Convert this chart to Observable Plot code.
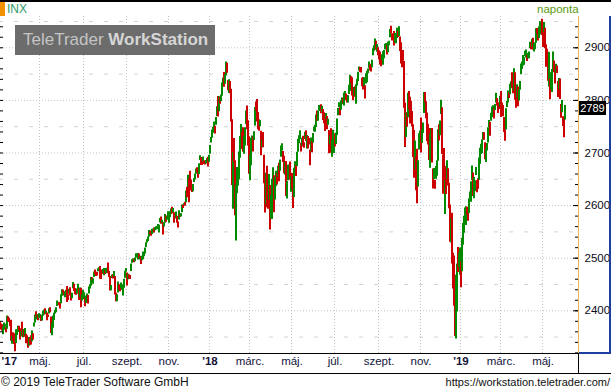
<!DOCTYPE html>
<html><head><meta charset="utf-8">
<script src="https://cdn.jsdelivr.net/npm/d3@7"></script>
<script src="https://cdn.jsdelivr.net/npm/@observablehq/plot@0.6"></script>
<style>
body{margin:0;background:#fff;}
#wrap{position:relative;width:611px;height:392px;overflow:hidden;background:#fff;font-family:"Liberation Sans",Arial,sans-serif;}
#chart{position:absolute;left:0;top:0;}
.abs{position:absolute;}
.topline{left:0;top:0;width:611px;height:2px;background:#000;}
.orange{left:0;top:2px;width:5px;height:14px;background:#f39200;}
.inx{left:7px;top:2px;font-size:12px;color:#2f9a6a;line-height:14px;}
.naponta{left:537px;top:3px;font-size:11.5px;color:#5a9a10;line-height:13px;}
.wm{left:15px;top:25px;width:200px;height:30px;background:#6c6c6c;color:#c4c4c4;font-size:17px;line-height:30px;white-space:nowrap;}
.wm .a{margin-left:8px;}
.wm .b{font-weight:bold;color:#d6d6d6;}
.hl{background:#000;height:1px;}
.gold{background:#e8b84a;width:1px;}
.blue{background:#1f3f9f;}
.last{background:#000;color:#fff;font-size:11px;line-height:14px;height:14px;width:27px;text-align:center;left:579px;}
.foot{top:375px;font-size:12px;color:#111;line-height:14px;white-space:nowrap;}
</style></head><body>
<div id="wrap">
<div id="chart"></div>
<div class="abs topline"></div>
<div class="abs orange"></div>
<div class="abs inx">INX</div>
<div class="abs naponta">naponta</div>
<div class="abs wm"><span class="a">TeleTrader </span><span class="b">WorkStation</span></div>
<div class="abs hl" style="left:0;top:353px;width:579px;"></div>
<div class="abs hl" style="left:0;top:373px;width:611px;"></div>
<div class="abs hl" style="left:578px;top:353px;width:1px;height:20px;"></div>
<div class="abs gold" style="left:578px;top:16px;height:337px;"></div>
<div class="abs blue" style="left:609px;top:16px;width:2px;height:338px;"></div>
<div class="abs blue" style="left:579px;top:352px;width:32px;height:2px;"></div>
<div class="abs last" id="last"></div>
<div class="abs foot" style="left:1px;">© 2019 TeleTrader Software GmbH</div>
<div class="abs foot" style="right:1px;font-size:11px;">https://workstation.teletrader.com/</div>
</div>
<script>
// Trading days per month, Mar 2017 (from the 6th) .. Jun 2019
const monthDays = [20,19,22,22,20,23,20,22,21,20, 21,19,21,21,22,21,21,23,19,23,21,19, 21,19,21,21,22,2];
const firstLabel = "'17";
const xTickLabels = ["máj.","júl.","szept.","nov.","'18","márc.","máj.","júl.","szept.","nov.","'19","márc.","máj."];
const yTicks = [2400,2500,2600,2700,2800,2900];
const prevClose = 2383.1;
const lastLabel = "2789";

const highs = [
2378.8,2375.1,2373.6,2369.1,2376.9,2374.4,2368.6,2390.0,2388.9,2385.7,2379.6,2382.0,2351.8,2358.2,2356.2,2344.9,2363.8,2363.4,2370.4,2370.4,
2365.9,2360.5,2378.4,2364.2,2363.8,2366.4,2355.2,2352.7,2348.3,2349.1,2348.4,2352.6,2361.4,2356.2,2376.9,2392.1,2398.2,2392.4,2392.4,
2394.5,2392.9,2390.7,2391.4,2399.3,2401.4,2403.9,2399.7,2395.7,2392.1,2404.0,2405.8,2388.2,2375.7,2390.0,2395.5,2400.9,2405.6,2418.7,2416.4,2415.3,2415.8,
2430.6,2440.2,2439.5,2436.2,2435.2,2439.0,2446.2,2430.7,2441.0,2443.8,2433.2,2433.2,2453.8,2450.4,2442.6,2440.6,2441.2,2450.4,2442.2,2443.4,2442.7,2430.5,
2439.2,2434.1,2424.2,2428.1,2432.0,2429.3,2445.0,2449.3,2463.5,2462.7,2460.9,2473.8,2477.6,2472.5,2473.1,2480.0,2481.7,2484.0,2473.5,2477.7,
2478.5,2480.4,2476.3,2480.4,2480.9,2490.9,2474.9,2465.0,2448.1,2468.2,2468.4,2474.9,2465.0,2433.4,2430.6,2454.8,2449.0,2448.9,2453.0,2449.1,2449.2,2460.0,2475.0,
2480.4,2471.9,2469.6,2468.6,2467.1,2488.9,2496.8,2498.4,2498.4,2500.2,2508.3,2507.0,2508.9,2507.8,2503.5,2502.5,2503.5,2511.8,2510.8,2519.4,
2529.2,2535.1,2540.5,2552.5,2549.9,2551.8,2555.2,2555.2,2557.6,2557.7,2559.7,2559.7,2564.1,2562.4,2575.4,2578.3,2572.2,2567.4,2567.1,2582.9,2580.0,2578.3,
2588.4,2581.9,2588.4,2593.4,2597.0,2594.4,2586.5,2583.0,2587.7,2579.7,2569.0,2590.1,2583.9,2584.6,2601.2,2600.9,2604.2,2606.4,2627.7,2634.9,2657.7,
2650.6,2665.2,2648.7,2634.4,2640.0,2651.6,2660.3,2669.7,2671.9,2668.1,2679.6,2694.6,2691.0,2691.0,2692.6,2685.4,2682.4,2685.6,2689.4,2692.1,
2695.9,2714.4,2729.3,2743.5,2748.5,2759.1,2750.8,2767.6,2787.9,2807.5,2807.0,2805.8,2810.3,2833.0,2842.2,2853.0,2848.6,2872.9,2870.6,2837.8,2839.3,
2836.0,2821.0,2763.4,2701.0,2727.7,2685.3,2638.7,2672.6,2668.8,2702.1,2731.5,2754.4,2739.1,2747.8,2731.3,2747.8,2780.0,2789.2,2761.5,
2730.9,2696.3,2728.1,2732.1,2730.6,2740.5,2786.6,2797.0,2801.9,2777.1,2763.0,2761.9,2741.4,2724.2,2739.1,2695.7,2657.7,2661.4,2674.8,2632.6,2659.1,
2638.3,2619.1,2649.9,2672.1,2656.9,2653.6,2665.5,2661.4,2674.7,2680.3,2686.5,2713.3,2717.5,2702.8,2693.9,2682.9,2683.6,2645.8,2676.5,2677.4,2682.9,
2655.3,2660.9,2637.2,2670.9,2683.4,2676.3,2701.3,2726.1,2732.9,2742.1,2718.6,2727.8,2732.0,2719.5,2739.2,2742.2,2733.3,2731.5,2727.4,2705.3,2728.7,2722.5,
2736.9,2749.2,2752.6,2772.4,2779.9,2779.4,2790.2,2789.8,2791.5,2789.1,2782.8,2776.5,2766.2,2774.9,2769.3,2764.2,2742.9,2732.9,2746.1,2724.3,2743.3,
2727.3,2736.6,2737.8,2764.4,2784.7,2795.6,2785.9,2799.2,2804.5,2803.9,2814.2,2816.8,2812.1,2809.4,2808.6,2829.0,2848.0,2844.9,2843.2,2821.7,2824.5,
2825.8,2829.9,2840.4,2853.3,2863.4,2862.4,2862.5,2842.2,2843.4,2843.1,2828.0,2850.5,2855.6,2859.8,2873.2,2867.5,2868.8,2876.2,2898.3,2903.8,2916.5,2912.5,2906.3,
2900.2,2894.2,2892.1,2883.8,2886.9,2892.5,2894.7,2906.8,2908.3,2904.7,2911.2,2912.4,2934.8,2940.9,2926.9,2924.0,2931.2,2927.2,2920.5,
2937.1,2931.4,2939.9,2920.5,2909.6,2894.8,2894.8,2874.0,2795.1,2775.8,2776.0,2813.5,2816.9,2806.0,2797.8,2778.9,2753.6,2742.6,2722.7,2692.4,2706.9,2685.4,2736.7,
2741.7,2766.3,2744.3,2756.8,2815.2,2814.8,2797.6,2776.0,2754.6,2746.8,2735.4,2746.8,2746.8,2669.4,2670.7,2647.6,2674.4,2685.4,2744.0,2753.8,2760.9,
2800.2,2785.9,2696.1,2708.5,2647.5,2674.4,2685.4,2670.2,2642.3,2601.1,2574.0,2585.3,2509.6,2504.4,2410.3,2467.8,2489.1,2520.3,2509.2,
2519.5,2493.1,2538.1,2566.2,2579.8,2595.3,2597.8,2597.0,2589.5,2613.1,2625.8,2645.1,2675.5,2662.0,2653.2,2647.2,2672.4,2647.6,2650.9,2690.4,2709.0,
2716.7,2725.0,2739.0,2738.6,2719.3,2708.1,2718.1,2748.2,2761.9,2757.9,2775.7,2787.3,2789.9,2785.4,2792.4,2813.5,2803.5,2795.4,2791.1,
2808.0,2816.9,2795.0,2790.3,2767.7,2744.1,2784.0,2798.2,2818.0,2815.0,2830.7,2835.4,2852.4,2843.5,2860.3,2852.4,2809.8,2829.9,2825.4,2819.7,2836.0,
2869.4,2872.9,2885.3,2881.3,2893.2,2896.0,2885.3,2889.7,2891.9,2910.5,2909.6,2916.1,2918.0,2908.4,2909.5,2936.3,2936.8,2933.1,2939.9,2949.5,2948.2,
2954.1,2931.7,2947.9,2937.3,2905.9,2897.3,2880.6,2891.3,2840.2,2852.5,2858.7,2892.2,2875.0,2853.9,2868.9,2865.5,2836.0,2841.4,2840.5,2792.0,2799.7,2769.0,
2767.9,2790.5];

const lows = [
2367.0,2363.5,2361.0,2354.5,2363.0,2368.5,2358.2,2365.0,2379.0,2377.6,2369.7,2341.9,2336.5,2342.1,2335.7,2322.3,2337.6,2352.9,2358.6,2362.6,
2344.7,2350.7,2350.5,2348.9,2349.7,2350.7,2337.3,2341.2,2328.9,2332.5,2334.5,2335.1,2341.0,2344.5,2369.0,2377.0,2386.8,2382.7,2380.9,
2384.8,2385.2,2379.8,2380.4,2389.4,2392.1,2392.4,2392.8,2381.2,2387.2,2393.9,2396.1,2356.7,2352.7,2367.0,2381.7,2393.9,2396.1,2408.0,2411.7,2409.4,2403.6,
2413.5,2427.7,2434.3,2428.1,2424.8,2427.4,2415.7,2419.5,2431.3,2428.3,2418.5,2422.9,2441.8,2436.6,2430.7,2429.4,2431.3,2437.6,2419.4,2425.3,2405.7,2418.6,
2424.0,2421.2,2407.9,2413.7,2422.3,2412.8,2432.0,2441.4,2446.7,2457.2,2450.3,2463.2,2468.4,2465.1,2466.3,2474.2,2474.9,2459.9,2459.6,2468.9,
2471.1,2466.5,2468.9,2470.5,2475.0,2470.3,2463.2,2437.8,2437.9,2461.6,2460.3,2463.9,2430.0,2417.3,2417.4,2433.7,2439.0,2436.4,2442.2,2439.0,2428.2,2443.0,2462.1,
2473.9,2446.9,2459.2,2460.3,2459.4,2474.5,2490.4,2492.1,2491.4,2493.2,2499.9,2502.5,2496.7,2497.9,2496.5,2488.0,2495.1,2496.8,2502.9,2507.8,
2520.4,2528.9,2531.8,2540.0,2544.4,2541.6,2544.9,2547.9,2547.9,2552.1,2554.0,2554.0,2559.7,2547.9,2567.0,2564.3,2565.6,2544.0,2559.5,2566.2,2568.3,2572.2,
2574.9,2566.2,2576.8,2583.1,2584.1,2585.7,2566.3,2576.0,2574.5,2566.6,2557.4,2572.6,2577.6,2578.2,2586.5,2594.4,2600.5,2598.9,2605.4,2614.9,2633.9,
2605.5,2639.1,2627.7,2624.8,2626.5,2644.1,2649.0,2659.8,2662.9,2652.0,2659.1,2685.9,2676.1,2676.1,2682.4,2678.1,2677.0,2678.9,2682.1,2673.6,
2682.4,2697.8,2719.1,2727.9,2737.6,2747.9,2736.1,2752.8,2769.6,2768.6,2778.4,2792.6,2798.1,2808.1,2830.6,2824.8,2830.9,2846.2,2851.5,2818.3,2813.0,
2812.7,2759.1,2638.2,2593.1,2681.3,2580.6,2532.7,2622.5,2637.1,2648.9,2689.8,2725.1,2706.8,2701.3,2697.8,2713.4,2753.8,2744.2,2713.5,
2659.7,2647.3,2675.8,2711.3,2701.7,2723.9,2751.5,2779.3,2758.7,2744.4,2741.5,2750.0,2694.6,2710.1,2709.8,2641.6,2585.9,2601.8,2596.1,2593.1,2609.7,
2553.8,2574.6,2573.6,2649.6,2586.3,2610.8,2635.8,2639.3,2653.8,2645.1,2665.2,2692.1,2703.6,2681.9,2660.6,2657.7,2617.3,2612.7,2647.2,2659.0,2648.0,
2625.4,2631.7,2594.6,2615.3,2664.7,2655.2,2674.1,2701.4,2717.5,2725.5,2701.9,2712.2,2711.4,2709.2,2725.7,2721.9,2707.4,2707.4,2715.0,2675.8,2702.5,2700.7,
2718.7,2740.5,2739.5,2748.5,2760.2,2760.2,2779.9,2778.8,2774.7,2776.5,2761.7,2755.8,2740.7,2763.9,2744.4,2752.7,2698.7,2715.6,2699.4,2692.0,2718.0,
2699.0,2711.2,2716.0,2733.3,2770.7,2786.2,2770.8,2781.5,2791.7,2793.4,2789.2,2805.9,2799.8,2795.1,2795.1,2811.1,2817.0,2832.2,2808.3,2799.1,2808.1,
2805.9,2792.8,2827.4,2836.0,2855.9,2853.1,2852.0,2825.8,2819.9,2826.6,2802.5,2831.4,2833.7,2850.6,2861.3,2856.1,2854.0,2862.1,2884.7,2893.5,2898.4,2895.2,2891.7,
2885.1,2876.9,2867.3,2864.1,2875.9,2866.8,2879.2,2896.4,2895.8,2886.2,2890.4,2903.8,2919.0,2927.1,2913.0,2913.7,2903.3,2909.3,2907.5,
2917.9,2919.4,2921.4,2893.1,2869.3,2862.1,2874.3,2784.9,2710.5,2729.4,2749.0,2766.9,2781.8,2755.2,2760.3,2749.2,2691.4,2651.9,2667.8,2628.2,2603.5,2635.3,2705.6,
2708.9,2700.1,2717.9,2737.1,2774.9,2795.0,2764.9,2722.0,2715.0,2685.8,2670.8,2712.2,2681.2,2631.5,2649.8,2631.1,2650.0,2655.9,2684.4,2722.9,2732.8,
2773.4,2697.2,2621.5,2623.1,2583.2,2621.3,2650.3,2637.3,2593.8,2530.5,2528.7,2489.0,2441.2,2408.6,2351.1,2346.6,2397.9,2472.9,2482.8,
2467.5,2444.0,2474.3,2524.6,2547.6,2568.9,2562.0,2581.9,2570.4,2585.1,2612.7,2606.4,2647.6,2617.1,2612.9,2627.0,2657.3,2624.6,2631.1,2648.3,2678.7,
2696.9,2698.8,2724.7,2724.3,2687.3,2681.8,2703.8,2719.0,2748.6,2731.6,2760.2,2767.3,2774.1,2764.5,2781.0,2795.0,2789.5,2775.1,2782.6,
2787.4,2767.7,2784.0,2768.7,2739.1,2722.3,2743.5,2786.7,2794.9,2803.5,2810.8,2822.0,2823.3,2812.4,2817.4,2800.4,2785.0,2804.0,2787.7,2798.8,2819.2,
2848.6,2858.8,2865.2,2867.0,2883.0,2880.8,2873.9,2879.1,2879.1,2898.4,2896.5,2900.7,2895.5,2891.9,2896.4,2908.5,2926.1,2912.8,2917.6,2939.4,2924.1,
2923.4,2900.5,2929.0,2898.2,2862.8,2873.3,2836.4,2825.4,2801.4,2820.8,2815.1,2855.9,2852.7,2831.3,2851.6,2851.1,2805.5,2820.2,2801.6,2766.1,2776.7,2750.5,
2728.8,2762.6];

const closes = [
2375.3,2368.4,2363.0,2364.9,2372.6,2373.5,2365.5,2385.3,2381.4,2378.3,2373.5,2344.0,2348.5,2346.0,2344.0,2341.6,2358.6,2361.1,2368.1,2362.7,
2358.8,2360.2,2353.0,2357.5,2355.5,2357.2,2353.8,2344.9,2329.0,2349.0,2342.2,2338.2,2355.8,2348.7,2374.2,2388.6,2387.5,2388.8,2384.2,
2388.3,2391.2,2388.1,2389.5,2399.3,2399.4,2396.9,2399.6,2394.4,2390.9,2402.3,2400.7,2357.0,2365.7,2381.7,2394.0,2398.4,2404.4,2415.1,2415.8,2412.9,2411.8,
2430.1,2439.1,2436.1,2429.3,2433.1,2433.8,2431.8,2429.4,2440.4,2437.9,2432.5,2433.2,2453.5,2437.0,2435.6,2434.5,2438.3,2439.1,2419.4,2440.7,2419.7,2423.4,
2429.0,2432.5,2409.8,2425.2,2427.4,2425.5,2443.3,2447.8,2459.3,2459.1,2460.6,2473.8,2473.5,2472.5,2469.9,2477.1,2477.8,2475.4,2472.1,2470.3,
2476.4,2477.6,2472.2,2476.8,2480.9,2474.9,2474.0,2438.2,2441.3,2465.8,2464.6,2468.1,2430.0,2425.6,2428.4,2452.5,2444.0,2439.0,2443.1,2444.2,2446.3,2457.6,2471.7,
2476.6,2457.9,2465.5,2465.1,2461.4,2488.1,2496.5,2498.4,2495.6,2500.2,2503.9,2506.7,2508.2,2500.6,2502.2,2496.7,2496.8,2507.0,2510.1,2519.4,
2529.1,2534.6,2537.7,2552.1,2549.3,2544.7,2550.6,2555.2,2550.9,2553.2,2557.6,2559.4,2561.3,2562.1,2575.2,2565.0,2569.1,2557.2,2560.4,2581.1,2572.8,2575.3,
2579.4,2579.9,2587.8,2591.1,2590.6,2594.4,2584.6,2582.3,2584.8,2578.9,2564.6,2585.6,2578.9,2582.1,2599.0,2597.1,2602.4,2601.4,2627.0,2626.1,2647.6,
2642.2,2639.4,2629.6,2629.3,2637.0,2651.5,2660.0,2664.1,2662.9,2652.0,2675.8,2690.2,2681.5,2679.3,2684.6,2683.3,2680.5,2682.6,2687.5,2673.6,
2695.8,2713.1,2724.0,2743.2,2747.7,2751.3,2748.2,2767.6,2786.2,2776.4,2802.6,2798.0,2810.3,2833.0,2839.1,2837.5,2839.3,2872.9,2853.5,2822.4,2823.8,
2822.0,2762.1,2648.9,2695.1,2681.7,2581.0,2619.6,2656.0,2662.9,2698.6,2731.2,2732.2,2716.3,2701.3,2704.0,2747.3,2779.6,2744.3,2713.8,
2677.7,2691.3,2720.9,2728.1,2726.8,2739.0,2786.6,2783.0,2765.3,2749.5,2747.3,2752.0,2712.9,2716.9,2711.9,2643.7,2588.3,2658.6,2612.6,2605.0,2640.9,
2581.9,2614.5,2644.7,2662.8,2604.5,2613.2,2656.9,2642.2,2664.0,2656.3,2677.8,2706.4,2708.6,2693.1,2670.1,2670.3,2634.6,2639.4,2666.9,2669.9,2648.1,
2654.8,2635.7,2629.7,2663.4,2672.6,2671.9,2697.8,2723.1,2727.7,2730.1,2711.5,2722.5,2720.1,2713.0,2733.0,2724.4,2733.3,2727.8,2721.3,2689.9,2724.0,2705.3,
2734.6,2746.9,2748.8,2772.4,2770.4,2779.0,2782.0,2786.9,2775.6,2782.5,2779.7,2773.8,2762.6,2767.3,2749.8,2754.9,2717.1,2723.1,2699.6,2716.3,2718.4,
2726.7,2713.2,2736.6,2759.8,2784.2,2793.8,2774.0,2798.3,2801.3,2798.4,2809.6,2815.6,2804.5,2801.8,2807.0,2820.4,2846.1,2837.4,2818.8,2802.6,2816.3,
2813.4,2827.2,2840.4,2850.4,2858.5,2857.7,2853.6,2833.3,2821.9,2840.0,2818.4,2840.7,2850.1,2857.1,2863.0,2861.8,2857.0,2874.7,2896.7,2897.5,2914.0,2901.1,2901.5,
2896.7,2888.6,2878.1,2871.7,2877.1,2887.9,2888.9,2904.2,2905.0,2888.8,2904.3,2908.0,2930.8,2929.7,2919.4,2915.6,2906.0,2914.0,2914.0,
2924.6,2923.4,2925.5,2901.6,2885.6,2884.4,2880.3,2785.7,2728.4,2767.1,2750.8,2809.9,2809.2,2768.8,2767.8,2755.9,2740.7,2656.1,2705.6,2658.7,2641.3,2682.6,2711.7,
2740.4,2723.1,2738.3,2755.5,2813.9,2806.8,2781.0,2726.2,2722.2,2701.6,2730.2,2736.3,2690.7,2641.9,2649.9,2632.6,2673.5,2682.2,2743.8,2737.8,2760.2,
2790.4,2700.1,2696.0,2633.1,2637.7,2636.8,2651.1,2650.5,2600.0,2545.9,2546.2,2507.0,2467.4,2416.6,2351.1,2467.7,2488.8,2485.7,2506.9,
2510.0,2447.9,2531.9,2549.7,2574.4,2585.0,2596.6,2596.3,2582.6,2610.3,2616.1,2636.0,2670.7,2632.9,2638.7,2642.3,2664.8,2643.9,2640.0,2681.1,2704.1,
2706.5,2724.9,2737.7,2731.6,2706.1,2707.9,2709.8,2744.7,2753.0,2745.7,2775.6,2779.8,2784.7,2774.9,2792.7,2796.1,2793.9,2792.4,2784.5,
2803.7,2792.8,2789.7,2771.5,2748.9,2743.1,2783.3,2791.5,2810.9,2808.5,2822.5,2832.9,2832.6,2824.2,2854.9,2800.7,2798.4,2818.5,2805.4,2815.4,2834.4,
2867.2,2867.2,2873.4,2879.4,2892.7,2895.8,2878.2,2888.2,2888.3,2907.4,2905.6,2907.1,2900.5,2905.0,2908.0,2933.7,2927.3,2926.2,2939.9,2943.0,2945.8,
2923.7,2917.5,2945.6,2932.5,2884.1,2879.4,2870.7,2881.4,2811.9,2834.4,2851.0,2876.3,2859.5,2840.2,2864.4,2856.3,2822.2,2826.1,2802.4,2783.0,2788.9,2752.1,
2744.5,2789.0];

const bars = closes.map((c, i) => ({
  i, high: highs[i], low: lows[i], close: c,
  up: c >= (i ? closes[i - 1] : prevClose)
}));

const monthStart = [];
monthDays.reduce((acc, n) => { monthStart.push(acc); return acc + n; }, 0);
const tickIdx = monthStart.filter((_, k) => k > 0 && k % 2 === 0);
const xLabels = tickIdx.map((i, k) => ({i, label: xTickLabels[k], year: xTickLabels[k].startsWith("'")}));

const minor20 = d3.range(2320, 2960, 20);
const mid50 = yTicks.map(v => v + 50).concat([yTicks[0] - 50]);

const font = "'Liberation Sans', Arial, sans-serif";
const plot = Plot.plot({
  width: 611, height: 373,
  marginTop: 16, marginBottom: 20, marginLeft: 0, marginRight: 32,
  x: {type: "linear", domain: [-0.5, 578.5], axis: null},
  y: {type: "linear", domain: [2318.8, 2959.5], axis: null},
  style: {fontFamily: font, background: "transparent", overflow: "visible"},
  marks: [
    Plot.ruleY(mid50, {stroke: "#d2d2d2", strokeDasharray: "4,11", strokeDashoffset: -14}),
    Plot.ruleY(yTicks, {stroke: "#c4c4c4", strokeDasharray: "1,2"}),
    Plot.ruleX(tickIdx, {x: d => d, stroke: "#c4c4c4", strokeDasharray: "1,2", dx: -0.5}),
    Plot.ruleX(bars, {x: "i", y1: "low", y2: "high", stroke: d => d.up ? "#008a00" : "#cc0000", strokeWidth: 2, dx: -1}),
    Plot.ruleY(minor20, {x1: -0.5, x2: 2.5, stroke: "#000"}),
    Plot.ruleY(minor20, {x1: 575.5, x2: 578.5, stroke: "#000", dx: -1}),
    Plot.ruleY(yTicks, {x1: 573.5, x2: 578.5, stroke: "#000", dx: -1}),
    Plot.text(yTicks, {y: d => d, text: d => String(d), frameAnchor: "right", textAnchor: "start", dx: 5, fill: "#0a0a20", fontSize: 11.5}),
    Plot.text(xLabels.filter(d => !d.year), {x: "i", text: "label", frameAnchor: "bottom", dy: 11, fill: "#14143a", fontSize: 11.5}),
    Plot.text(xLabels.filter(d => d.year), {x: "i", text: "label", frameAnchor: "bottom", dy: 11, fill: "#14143a", fontSize: 11.5, fontWeight: "bold"}),
    Plot.text([firstLabel], {frameAnchor: "bottom-left", text: d => d, textAnchor: "start", dx: 1, dy: 11, fill: "#14143a", fontSize: 11.5, fontWeight: "bold"})
  ]
});
document.getElementById("chart").appendChild(plot);

const ys = plot.scale("y");
const last = document.getElementById("last");
last.textContent = lastLabel;
last.style.top = (ys.apply(closes[closes.length - 1]) - 5) + "px";
</script>
</body></html>
